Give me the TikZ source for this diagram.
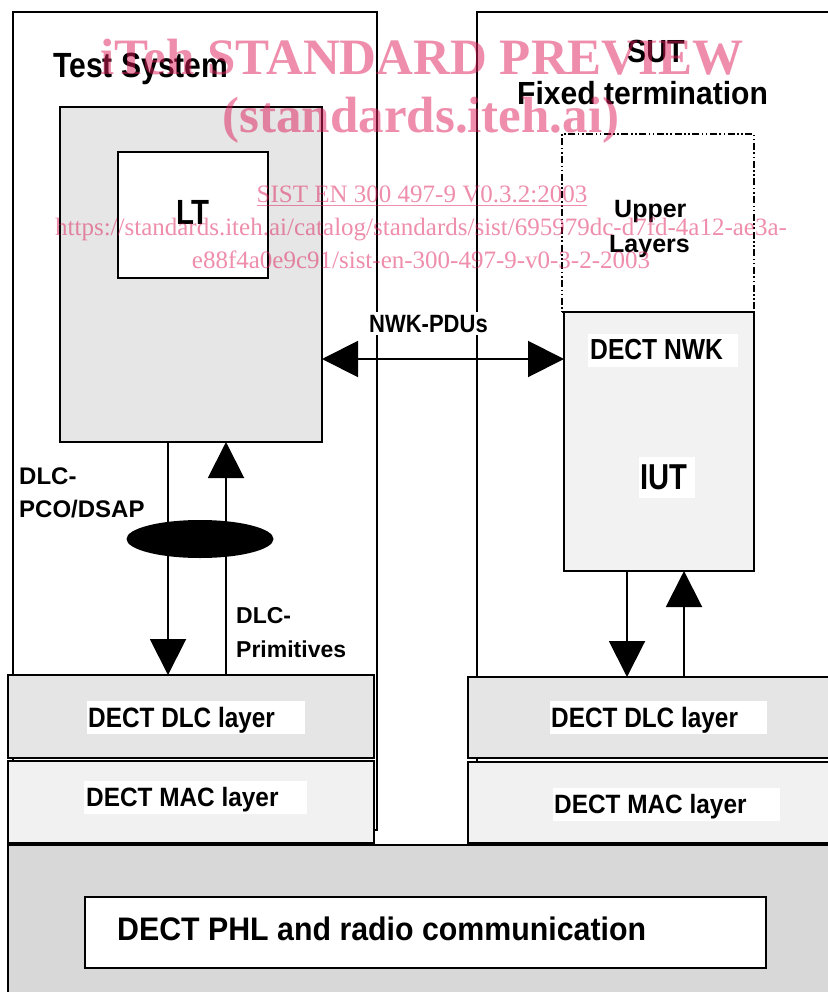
\documentclass[tikz,border=0pt]{standalone}
\usepackage{fontspec}
\setmainfont{Liberation Sans}
\newfontfamily\wmfont{Liberation Serif}
\usepackage{graphicx}
\usetikzlibrary{arrows.meta,shapes.geometric}
\definecolor{gbox}{HTML}{E6E6E6}
\definecolor{gdlc}{HTML}{E5E5E5}
\definecolor{gmac}{HTML}{F1F1F1}
\definecolor{giut}{HTML}{F2F2F2}
\definecolor{gphl}{HTML}{D8D8D8}
\definecolor{wmc}{RGB}{222,30,90}
\newcommand\sx[3]{\scalebox{#2}[1]{\fontsize{#1}{#1}\selectfont\bfseries #3}}
\newcommand\bx[2]{{\fontsize{#1}{#1}\selectfont\bfseries #2}}
\newcommand\wmtx[3]{{\wmfont\fontsize{#1}{#1}\selectfont #2 #3}}
\begin{document}
\begin{tikzpicture}[x=1pt,y=-1pt,
  box/.style={draw,line width=2pt,inner sep=0pt,outer sep=0pt,anchor=north west},
  lbl/.style={inner sep=0pt,anchor=base west},
  wm/.style={inner sep=0pt,anchor=base,text=wmc,text opacity=0.5},
  conn/.style={line width=2pt},
  >={Triangle[length=36pt,width=36pt]}]
\useasboundingbox[fill=white] (0,0) rectangle (827,992);

% outer system boxes
\node[box,minimum width=364pt,minimum height=818pt] (tsys) at (13,12) {};
\node[box,minimum width=400pt,minimum height=818pt] (sut) at (477,12) {};

\node[lbl] (tstxt) at (53,78) {\sx{35}{0.86}{Test System}};
\node[lbl] (suttxt) at (627,63) {\sx{32}{0.9}{SUT}};
\node[lbl] (fixtxt) at (517,105) {\sx{32}{0.94}{Fixed termination}};

% test system inner
\node[box,fill=gbox,minimum width=262pt,minimum height=335pt] (ts) at (60,107) {};
\node[box,fill=white,minimum width=150pt,minimum height=126pt] (lt) at (118,152) {};
\node[lbl] (lttxt) at (176,225) {\sx{35}{0.84}{LT}};

% upper layers
\node[box,line width=1.6pt,dash pattern=on 7pt off 2.5pt on 1.6pt off 2.5pt on 1.6pt off 2.5pt,
      minimum width=192pt,minimum height=178pt] (ul) at (562,134) {};
\node[lbl] (up1) at (614,218) {\bx{25}{Upper}};
\node[lbl] (up2) at (609,252) {\bx{25}{Layers}};

% IUT
\node[box,fill=giut,minimum width=190pt,minimum height=259pt] (iut) at (564,312) {};
\fill[white] (588,334) rectangle (738,367);
\node[lbl] (nwktxt) at (590,359) {\sx{29}{0.85}{DECT NWK}};
\fill[white] (639,457) rectangle (695,498);
\node[lbl] (iuttxt) at (640,489) {\sx{36}{0.81}{IUT}};

% NWK-PDUs
\node[inner xsep=4pt,inner ysep=3pt,anchor=base west,fill=white] (pdutxt) at (365,332) {\sx{25}{0.88}{NWK-PDUs}};
\coordinate (ynwk) at (0,359);
\draw[conn,<->] (ts.east |- ynwk) -- (iut.west |- ynwk);

% layer boxes (coordinates for arrows)
\coordinate (xa) at (168,0);
\coordinate (xb) at (226,0);
\coordinate (xc) at (627,0);
\coordinate (xd) at (684,0);

\node[box,fill=gdlc,minimum width=366pt,minimum height=83pt] (ldlc) at (8,675) {};
\node[box,fill=gdlc,minimum width=380pt,minimum height=81pt] (rdlc) at (468,677) {};

\draw[conn,->] (ts.south -| xa) -- (ldlc.north -| xa);
\draw[conn,->] (ldlc.north -| xb) -- (ts.south -| xb);
\draw[conn,->] (iut.south -| xc) -- (rdlc.north -| xc);
\draw[conn,->] (rdlc.north -| xd) -- (iut.south -| xd);

\node[ellipse,fill=black,inner sep=0pt,minimum width=147pt,minimum height=38pt] (pco) at (200,539) {};

\node[lbl] (dlc1) at (19,484) {\bx{24}{DLC-}};
\node[lbl] (dlc2) at (19,517) {\bx{24}{PCO/DSAP}};
\node[lbl] (prim1) at (236,623) {\bx{23}{DLC-}};
\node[lbl] (prim2) at (236,657) {\bx{23}{Primitives}};

\node[box,fill=gmac,minimum width=366pt,minimum height=82pt] (lmac) at (8,761) {};
\node[box,fill=gmac,minimum width=380pt,minimum height=81pt] (rmac) at (468,762) {};
\node[box,fill=gphl,minimum width=840pt,minimum height=160pt] (phl) at (8,845) {};
\node[box,fill=white,minimum width=681pt,minimum height=71pt] (phlin) at (85,897) {};

\fill[white] (87,701) rectangle (305,734);
\node[lbl] (ldlctxt) at (88,727) {\sx{28}{0.87}{DECT DLC layer}};
\fill[white] (84,781) rectangle (307,814);
\node[lbl] (lmactxt) at (86,806) {\sx{26.5}{0.92}{DECT MAC layer}};
\fill[white] (550,701) rectangle (767,734);
\node[lbl] (rdlctxt) at (551,727) {\sx{28}{0.87}{DECT DLC layer}};
\fill[white] (553,788) rectangle (780,821);
\node[lbl] (rmactxt) at (554,813) {\sx{26.5}{0.92}{DECT MAC layer}};
\node[lbl] (phltxt) at (117,940) {\sx{32.6}{0.93}{DECT PHL and radio communication}};

% watermark
\node[wm] (wm1) at (422,75) {\wmtx{51}{\bfseries iTeh STANDARD PREVIEW}{}};
\node[wm] (wm2) at (421,133) {\wmtx{51}{\bfseries (standards.iteh.ai)}{}};
\node[wm] (wm3) at (422,203) {\wmtx{25}{\underline{SIST EN 300 497-9 V0.3.2:2003}}{}};
\node[wm] (wm4) at (421,236) {\wmtx{25}{https://standards.iteh.ai/catalog/standards/sist/695979dc-d7fd-4a12-ae3a-}{}};
\node[wm] (wm5) at (421,268) {\wmtx{25}{e88f4a0e9c91/sist-en-300-497-9-v0-3-2-2003}{}};
\end{tikzpicture}
\end{document}
